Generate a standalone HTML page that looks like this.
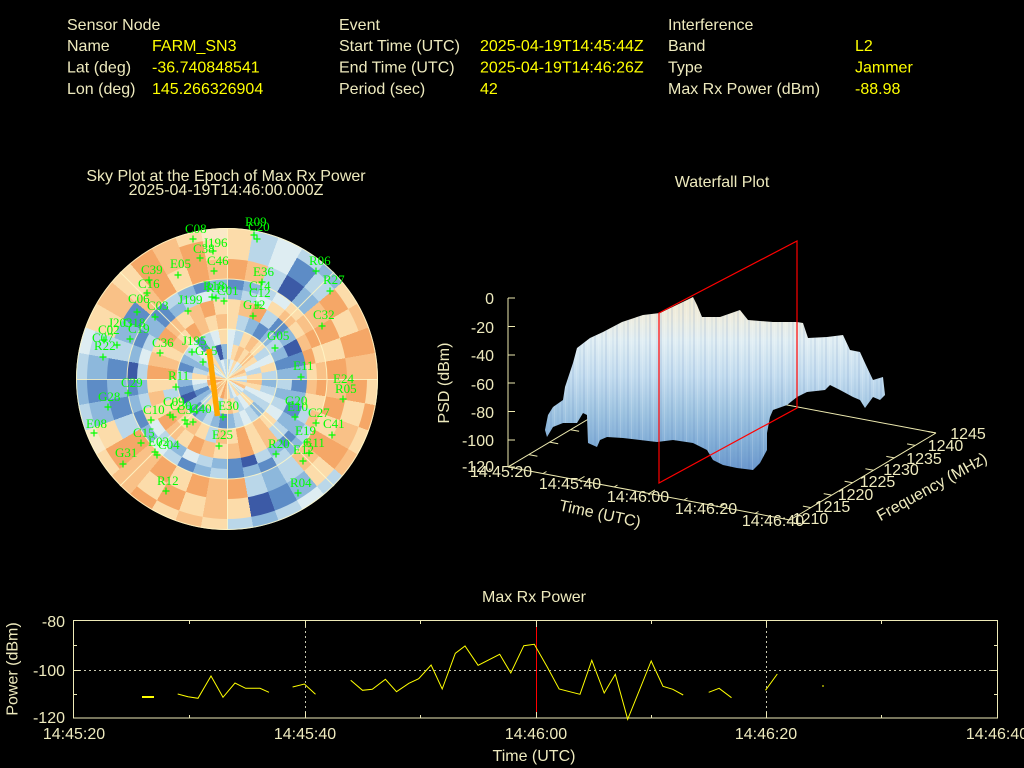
<!DOCTYPE html>
<html><head><meta charset="utf-8"><style>
html,body{margin:0;padding:0;background:#000}
body{width:1024px;height:768px;position:relative;overflow:hidden}
.r{position:absolute;border-radius:50%}
#rA{left:76px;top:228px;width:302px;height:302px;background:conic-gradient(#fcdcaa 0deg 10deg,#bad7e9 10deg 20deg,#deedf2 20deg 30deg,#bad7e9 30deg 40deg,#8db8dc 40deg 50deg,#fcdcaa 50deg 60deg,#f9c187 60deg 70deg,#f5a767 70deg 80deg,#f9c187 80deg 90deg,#fcdcaa 90deg 100deg,#f5a767 100deg 110deg,#fcdcaa 110deg 120deg,#f9c187 120deg 130deg,#bad7e9 130deg 140deg,#deedf2 140deg 150deg,#bad7e9 150deg 160deg,#8db8dc 160deg 170deg,#bad7e9 170deg 180deg,#fcdcaa 180deg 190deg,#f9c187 190deg 200deg,#fcdcaa 200deg 210deg,#f5a767 210deg 220deg,#f9c187 220deg 230deg,#fcdcaa 230deg 240deg,#fae9c8 240deg 250deg,#bad7e9 250deg 260deg,#8db8dc 260deg 270deg,#bad7e9 270deg 280deg,#deedf2 280deg 290deg,#fcdcaa 290deg 300deg,#f9c187 300deg 310deg,#fcdcaa 310deg 320deg,#f5a767 320deg 330deg,#f9c187 330deg 340deg,#fcdcaa 340deg 350deg,#fae9c8 350deg 360deg)}
#rB{left:87px;top:239px;width:280px;height:280px;background:conic-gradient(#fcdcaa 0deg 10deg,#bad7e9 10deg 20deg,#deedf2 20deg 30deg,#5d8cc6 30deg 40deg,#bad7e9 40deg 50deg,#f5a767 50deg 60deg,#fcdcaa 60deg 70deg,#f5a767 70deg 80deg,#f9c187 80deg 90deg,#f5a767 90deg 100deg,#fcdcaa 100deg 110deg,#f9c187 110deg 120deg,#f5a767 120deg 130deg,#fcdcaa 130deg 140deg,#8db8dc 140deg 150deg,#5d8cc6 150deg 160deg,#3c5aa6 160deg 170deg,#fcdcaa 170deg 180deg,#f9c187 180deg 190deg,#fcdcaa 190deg 200deg,#f5a767 200deg 210deg,#fcdcaa 210deg 220deg,#f9c187 220deg 230deg,#f5a767 230deg 240deg,#fcdcaa 240deg 250deg,#8db8dc 250deg 260deg,#5d8cc6 260deg 270deg,#8db8dc 270deg 280deg,#bad7e9 280deg 290deg,#fcdcaa 290deg 300deg,#f9c187 300deg 310deg,#fcdcaa 310deg 320deg,#f5a767 320deg 330deg,#f9c187 330deg 340deg,#f5a767 340deg 350deg,#fcdcaa 350deg 360deg)}
#rC{left:107px;top:259px;width:240px;height:240px;background:conic-gradient(#f5a767 0deg 10deg,#f9c187 10deg 20deg,#bad7e9 20deg 30deg,#3c5aa6 30deg 40deg,#8db8dc 40deg 50deg,#f9c187 50deg 60deg,#f5a767 60deg 70deg,#fcdcaa 70deg 80deg,#f5a767 80deg 90deg,#f9c187 90deg 100deg,#f5a767 100deg 110deg,#fcdcaa 110deg 120deg,#f5a767 120deg 130deg,#f9c187 130deg 140deg,#bad7e9 140deg 150deg,#8db8dc 150deg 160deg,#bad7e9 160deg 170deg,#f5a767 170deg 180deg,#f9c187 180deg 190deg,#f5a767 190deg 200deg,#fcdcaa 200deg 210deg,#f5a767 210deg 220deg,#f9c187 220deg 230deg,#f5a767 230deg 240deg,#bad7e9 240deg 250deg,#5d8cc6 250deg 260deg,#8db8dc 260deg 270deg,#5d8cc6 270deg 280deg,#bad7e9 280deg 290deg,#8db8dc 290deg 300deg,#5d8cc6 300deg 310deg,#f9c187 310deg 320deg,#f5a767 320deg 330deg,#fcdcaa 330deg 340deg,#f5a767 340deg 350deg,#f9c187 350deg 360deg)}
#rD{left:127px;top:279px;width:200px;height:200px;background:conic-gradient(#5d8cc6 0deg 10deg,#8db8dc 10deg 20deg,#bad7e9 20deg 30deg,#deedf2 30deg 40deg,#fcdcaa 40deg 50deg,#f9c187 50deg 60deg,#f5a767 60deg 70deg,#fcdcaa 70deg 80deg,#f9c187 80deg 90deg,#f5a767 90deg 100deg,#fcdcaa 100deg 110deg,#f9c187 110deg 120deg,#bad7e9 120deg 130deg,#8db8dc 130deg 140deg,#bad7e9 140deg 150deg,#5d8cc6 150deg 160deg,#8db8dc 160deg 170deg,#5d8cc6 170deg 180deg,#bad7e9 180deg 190deg,#8db8dc 190deg 200deg,#5d8cc6 200deg 210deg,#bad7e9 210deg 220deg,#deedf2 220deg 230deg,#8db8dc 230deg 240deg,#5d8cc6 240deg 250deg,#8db8dc 250deg 260deg,#5d8cc6 260deg 270deg,#3c5aa6 270deg 280deg,#8db8dc 280deg 290deg,#5d8cc6 290deg 300deg,#8db8dc 300deg 310deg,#5d8cc6 310deg 320deg,#bad7e9 320deg 330deg,#8db8dc 330deg 340deg,#5d8cc6 340deg 350deg,#8db8dc 350deg 360deg)}
#rE{left:137px;top:289px;width:180px;height:180px;background:conic-gradient(#8db8dc 0deg 10deg,#bad7e9 10deg 20deg,#deedf2 20deg 30deg,#fcdcaa 30deg 40deg,#f9c187 40deg 50deg,#fcdcaa 50deg 60deg,#f9c187 60deg 70deg,#f5a767 70deg 80deg,#fcdcaa 80deg 90deg,#f9c187 90deg 100deg,#fcdcaa 100deg 110deg,#bad7e9 110deg 120deg,#8db8dc 120deg 130deg,#5d8cc6 130deg 140deg,#8db8dc 140deg 150deg,#bad7e9 150deg 160deg,#3c5aa6 160deg 170deg,#5d8cc6 170deg 180deg,#8db8dc 180deg 190deg,#bad7e9 190deg 200deg,#deedf2 200deg 210deg,#8db8dc 210deg 220deg,#bad7e9 220deg 230deg,#deedf2 230deg 240deg,#fcdcaa 240deg 250deg,#bad7e9 250deg 260deg,#8db8dc 260deg 270deg,#bad7e9 270deg 280deg,#deedf2 280deg 290deg,#bad7e9 290deg 300deg,#8db8dc 300deg 310deg,#5d8cc6 310deg 320deg,#8db8dc 320deg 330deg,#bad7e9 330deg 340deg,#deedf2 340deg 350deg,#bad7e9 350deg 360deg)}
#rF{left:147px;top:299px;width:160px;height:160px;background:conic-gradient(#fcdcaa 0deg 10deg,#f9c187 10deg 20deg,#f5a767 20deg 30deg,#bad7e9 30deg 40deg,#5d8cc6 40deg 50deg,#8db8dc 50deg 60deg,#3c5aa6 60deg 70deg,#5d8cc6 70deg 80deg,#8db8dc 80deg 90deg,#5d8cc6 90deg 100deg,#8db8dc 100deg 110deg,#5d8cc6 110deg 120deg,#8db8dc 120deg 130deg,#bad7e9 130deg 140deg,#f9c187 140deg 150deg,#fcdcaa 150deg 160deg,#f5a767 160deg 170deg,#f9c187 170deg 180deg,#fcdcaa 180deg 190deg,#f9c187 190deg 200deg,#f5a767 200deg 210deg,#fcdcaa 210deg 220deg,#f9c187 220deg 230deg,#f5a767 230deg 240deg,#fcdcaa 240deg 250deg,#f9c187 250deg 260deg,#fcdcaa 260deg 270deg,#f5a767 270deg 280deg,#f9c187 280deg 290deg,#fcdcaa 290deg 300deg,#f5a767 300deg 310deg,#f9c187 310deg 320deg,#fcdcaa 320deg 330deg,#f9c187 330deg 340deg,#f5a767 340deg 350deg,#fcdcaa 350deg 360deg)}
#rG{left:162px;top:314px;width:130px;height:130px;background:conic-gradient(#fcdcaa 0deg 10deg,#bad7e9 10deg 20deg,#8db8dc 20deg 30deg,#5d8cc6 30deg 40deg,#8db8dc 40deg 50deg,#bad7e9 50deg 60deg,#8db8dc 60deg 70deg,#5d8cc6 70deg 80deg,#8db8dc 80deg 90deg,#bad7e9 90deg 100deg,#8db8dc 100deg 110deg,#bad7e9 110deg 120deg,#deedf2 120deg 130deg,#fcdcaa 130deg 140deg,#f9c187 140deg 150deg,#fcdcaa 150deg 160deg,#f5a767 160deg 170deg,#fcdcaa 170deg 180deg,#f9c187 180deg 190deg,#bad7e9 190deg 200deg,#fcdcaa 200deg 210deg,#f9c187 210deg 220deg,#fcdcaa 220deg 230deg,#f9c187 230deg 240deg,#fcdcaa 240deg 250deg,#bad7e9 250deg 260deg,#fcdcaa 260deg 270deg,#f5a767 270deg 280deg,#f9c187 280deg 290deg,#fcdcaa 290deg 300deg,#f9c187 300deg 310deg,#fcdcaa 310deg 320deg,#f5a767 320deg 330deg,#f9c187 330deg 340deg,#fcdcaa 340deg 350deg,#f9c187 350deg 360deg)}
#rH{left:177px;top:329px;width:100px;height:100px;background:conic-gradient(#deedf2 0deg 10deg,#bad7e9 10deg 20deg,#fcdcaa 20deg 30deg,#f9c187 30deg 40deg,#fcdcaa 40deg 50deg,#bad7e9 50deg 60deg,#deedf2 60deg 70deg,#fcdcaa 70deg 80deg,#bad7e9 80deg 90deg,#8db8dc 90deg 100deg,#bad7e9 100deg 110deg,#deedf2 110deg 120deg,#bad7e9 120deg 130deg,#8db8dc 130deg 140deg,#bad7e9 140deg 150deg,#deedf2 150deg 160deg,#bad7e9 160deg 170deg,#8db8dc 170deg 180deg,#5d8cc6 180deg 190deg,#8db8dc 190deg 200deg,#bad7e9 200deg 210deg,#8db8dc 210deg 220deg,#5d8cc6 220deg 230deg,#8db8dc 230deg 240deg,#3c5aa6 240deg 250deg,#5d8cc6 250deg 260deg,#8db8dc 260deg 270deg,#bad7e9 270deg 280deg,#5d8cc6 280deg 290deg,#8db8dc 290deg 300deg,#bad7e9 300deg 310deg,#deedf2 310deg 320deg,#5d8cc6 320deg 330deg,#bad7e9 330deg 340deg,#deedf2 340deg 350deg,#fcdcaa 350deg 360deg)}
#rI{left:192px;top:344px;width:70px;height:70px;background:conic-gradient(#deedf2 0deg 10deg,#fcdcaa 10deg 20deg,#f9c187 20deg 30deg,#fcdcaa 30deg 40deg,#f9c187 40deg 50deg,#fcdcaa 50deg 60deg,#deedf2 60deg 70deg,#bad7e9 70deg 80deg,#fcdcaa 80deg 90deg,#f9c187 90deg 100deg,#fcdcaa 100deg 110deg,#deedf2 110deg 120deg,#bad7e9 120deg 130deg,#fcdcaa 130deg 140deg,#deedf2 140deg 150deg,#bad7e9 150deg 160deg,#fcdcaa 160deg 170deg,#f9c187 170deg 180deg,#fcdcaa 180deg 190deg,#bad7e9 190deg 200deg,#deedf2 200deg 210deg,#fcdcaa 210deg 220deg,#bad7e9 220deg 230deg,#8db8dc 230deg 240deg,#5d8cc6 240deg 250deg,#bad7e9 250deg 260deg,#deedf2 260deg 270deg,#fcdcaa 270deg 280deg,#bad7e9 280deg 290deg,#8db8dc 290deg 300deg,#bad7e9 300deg 310deg,#deedf2 310deg 320deg,#fcdcaa 320deg 330deg,#bad7e9 330deg 340deg,#3c5aa6 340deg 350deg,#8db8dc 350deg 360deg)}
#rJ{left:207px;top:359px;width:40px;height:40px;background:conic-gradient(#bad7e9 0deg 10deg,#deedf2 10deg 20deg,#fcdcaa 20deg 30deg,#deedf2 30deg 40deg,#bad7e9 40deg 50deg,#fcdcaa 50deg 60deg,#f9c187 60deg 70deg,#fcdcaa 70deg 80deg,#deedf2 80deg 90deg,#bad7e9 90deg 100deg,#fcdcaa 100deg 110deg,#f9c187 110deg 120deg,#deedf2 120deg 130deg,#bad7e9 130deg 140deg,#fcdcaa 140deg 150deg,#deedf2 150deg 160deg,#bad7e9 160deg 170deg,#fcdcaa 170deg 180deg,#f9c187 180deg 190deg,#f5a767 190deg 200deg,#fcdcaa 200deg 210deg,#f9c187 210deg 220deg,#f5a767 220deg 230deg,#f9c187 230deg 240deg,#fcdcaa 240deg 250deg,#f5a767 250deg 260deg,#f5a767 260deg 270deg,#f9c187 270deg 280deg,#fcdcaa 280deg 290deg,#bad7e9 290deg 300deg,#deedf2 300deg 310deg,#bad7e9 310deg 320deg,#fcdcaa 320deg 330deg,#bad7e9 330deg 340deg,#deedf2 340deg 350deg,#bad7e9 350deg 360deg)}
svg{position:absolute;left:0;top:0}
.t{font-family:"Liberation Sans",sans-serif;font-size:16px;fill:#eeeabe}
.v{font-family:"Liberation Sans",sans-serif;font-size:16px;fill:#ffff00}
.s{font-family:"Liberation Serif",serif;font-size:13px;fill:#00ff00}
</style></head><body>
<div class="r" id="rA"></div>
<div class="r" id="rB"></div>
<div class="r" id="rC"></div>
<div class="r" id="rD"></div>
<div class="r" id="rE"></div>
<div class="r" id="rF"></div>
<div class="r" id="rG"></div>
<div class="r" id="rH"></div>
<div class="r" id="rI"></div>
<div class="r" id="rJ"></div>
<svg width="1024" height="768" viewBox="0 0 1024 768">
<defs>
<linearGradient id="sg" gradientUnits="userSpaceOnUse" x1="0" y1="297" x2="0" y2="472">
<stop offset="0" stop-color="#f2ead2"/>
<stop offset="0.12" stop-color="#eeede0"/>
<stop offset="0.25" stop-color="#e2eff4"/>
<stop offset="0.45" stop-color="#c6def0"/>
<stop offset="0.65" stop-color="#a2c6e2"/>
<stop offset="0.85" stop-color="#80acd6"/>
<stop offset="1" stop-color="#6a96cc"/>
</linearGradient>
<pattern id="st" width="11" height="300" patternUnits="userSpaceOnUse">
<rect x="0" y="0" width="2" height="300" fill="#3f6fae" opacity="0.12"/>
<rect x="4" y="0" width="1" height="300" fill="#ffffff" opacity="0.15"/>
<rect x="7" y="0" width="2" height="300" fill="#5a88c0" opacity="0.08"/>
</pattern>
</defs>

<!-- Header -->
<text class="t" x="67" y="30">Sensor Node</text>
<text class="t" x="67" y="51">Name</text>
<text class="t" x="67" y="72.5">Lat (deg)</text>
<text class="t" x="67" y="94">Lon (deg)</text>
<text class="v" x="152" y="51">FARM_SN3</text>
<text class="v" x="152" y="72.5">-36.740848541</text>
<text class="v" x="152" y="94">145.266326904</text>
<text class="t" x="339" y="30">Event</text>
<text class="t" x="339" y="51">Start Time (UTC)</text>
<text class="t" x="339" y="72.5">End Time (UTC)</text>
<text class="t" x="339" y="94">Period (sec)</text>
<text class="v" x="480" y="51">2025-04-19T14:45:44Z</text>
<text class="v" x="480" y="72.5">2025-04-19T14:46:26Z</text>
<text class="v" x="480" y="94">42</text>
<text class="t" x="668" y="30">Interference</text>
<text class="t" x="668" y="51">Band</text>
<text class="t" x="668" y="72.5">Type</text>
<text class="t" x="668" y="94">Max Rx Power (dBm)</text>
<text class="v" x="855" y="51">L2</text>
<text class="v" x="855" y="72.5">Jammer</text>
<text class="v" x="855" y="94">-88.98</text>

<!-- Sky plot -->
<text class="t" x="226" y="181" text-anchor="middle">Sky Plot at the Epoch of Max Rx Power</text>
<text class="t" x="226" y="195" text-anchor="middle">2025-04-19T14:46:00.000Z</text>
<g fill="none" stroke="#fff8c8" stroke-width="1" opacity="0.85">
<circle cx="227" cy="379" r="50"/>
<circle cx="227" cy="379" r="100"/>
<circle cx="227" cy="379" r="150.5"/>
<line x1="76" y1="379.5" x2="378" y2="379.5"/>
<line x1="227.5" y1="228" x2="227.5" y2="530"/>
<line x1="120" y1="272" x2="334" y2="486"/>
<line x1="120" y1="486" x2="334" y2="272"/>
</g>
<g class="s">
<text class="s" x="185" y="233">C08</text>
<text class="s" x="245" y="226">R09</text>
<text class="s" x="248" y="231">C20</text>
<text class="s" x="203" y="247">J196</text>
<text class="s" x="193" y="253">C38</text>
<text class="s" x="170" y="268">E05</text>
<text class="s" x="207" y="265">C46</text>
<text class="s" x="141" y="274">C39</text>
<text class="s" x="138" y="288">C16</text>
<text class="s" x="253" y="276">E36</text>
<text class="s" x="309" y="265">R06</text>
<text class="s" x="323" y="284">R27</text>
<text class="s" x="203" y="290">R18</text>
<text class="s" x="206" y="292">R10</text>
<text class="s" x="217" y="295">C01</text>
<text class="s" x="249" y="290">C14</text>
<text class="s" x="249" y="297">C12</text>
<text class="s" x="243" y="309">G12</text>
<text class="s" x="128" y="303">C06</text>
<text class="s" x="147" y="310">C03</text>
<text class="s" x="178" y="304">J199</text>
<text class="s" x="313" y="319">C32</text>
<text class="s" x="108" y="327">J203</text>
<text class="s" x="123" y="327">G18</text>
<text class="s" x="128" y="333">C19</text>
<text class="s" x="98" y="334">C02</text>
<text class="s" x="92" y="342">C07</text>
<text class="s" x="94" y="350">R22</text>
<text class="s" x="267" y="340">G05</text>
<text class="s" x="182" y="345">J195</text>
<text class="s" x="195" y="355">G25</text>
<text class="s" x="152" y="347">C36</text>
<text class="s" x="293" y="370">E11</text>
<text class="s" x="333" y="383">E24</text>
<text class="s" x="335" y="393">R05</text>
<text class="s" x="168" y="380">R11</text>
<text class="s" x="121" y="387">C29</text>
<text class="s" x="98" y="401">G28</text>
<text class="s" x="143" y="414">C10</text>
<text class="s" x="163" y="406">C09</text>
<text class="s" x="170" y="410">C30</text>
<text class="s" x="177" y="414">C34</text>
<text class="s" x="190" y="413">C40</text>
<text class="s" x="218" y="410">E30</text>
<text class="s" x="285" y="405">G20</text>
<text class="s" x="287" y="411">E10</text>
<text class="s" x="308" y="417">C27</text>
<text class="s" x="323" y="428">C41</text>
<text class="s" x="86" y="428">E08</text>
<text class="s" x="295" y="435">E19</text>
<text class="s" x="303" y="447">G11</text>
<text class="s" x="133" y="437">C15</text>
<text class="s" x="212" y="439">E25</text>
<text class="s" x="268" y="448">R20</text>
<text class="s" x="293" y="454">E12</text>
<text class="s" x="148" y="446">E02</text>
<text class="s" x="158" y="449">C04</text>
<text class="s" x="115" y="457">G31</text>
<text class="s" x="157" y="485">R12</text>
<text class="s" x="290" y="487">R04</text>
</g>
<path fill="none" stroke="#00ff00" stroke-width="1.2" d="M189.5 239h7M193 235.5v7M250.5 235h7M254 231.5v7M253.5 239h7M257 235.5v7M209.5 251h7M213 247.5v7M196.5 258h7M200 254.5v7M174.5 275h7M178 271.5v7M210.5 271h7M214 267.5v7M145.5 280h7M149 276.5v7M143.5 293h7M147 289.5v7M258.5 282h7M262 278.5v7M312.5 271h7M316 267.5v7M326.5 291h7M330 287.5v7M208.5 297h7M212 293.5v7M212.5 298h7M216 294.5v7M220.5 301h7M224 297.5v7M254.5 305h7M258 301.5v7M249.5 316h7M253 312.5v7M133.5 312h7M137 308.5v7M151.5 317h7M155 313.5v7M184.5 311h7M188 307.5v7M318.5 326h7M322 322.5v7M126.5 339h7M130 335.5v7M100.5 340h7M104 336.5v7M113.5 345h7M117 341.5v7M99.5 357h7M103 353.5v7M271.5 348h7M275 344.5v7M188.5 352h7M192 348.5v7M199.5 362h7M203 358.5v7M156.5 353h7M160 349.5v7M297.5 377h7M301 373.5v7M339.5 399h7M343 395.5v7M172.5 387h7M176 383.5v7M124.5 393h7M128 389.5v7M104.5 407h7M108 403.5v7M147.5 420h7M151 416.5v7M166.5 415h7M170 411.5v7M169.5 417h7M173 413.5v7M181.5 420h7M185 416.5v7M183.5 424h7M187 420.5v7M189.5 422h7M193 418.5v7M219.5 417h7M223 413.5v7M291.5 417h7M295 413.5v7M312.5 423h7M316 419.5v7M328.5 435h7M332 431.5v7M90.5 433h7M94 429.5v7M303.5 442h7M307 438.5v7M305.5 453h7M309 449.5v7M137.5 443h7M141 439.5v7M215.5 446h7M219 442.5v7M272.5 454h7M276 450.5v7M299.5 461h7M303 457.5v7M151.5 452h7M155 448.5v7M153.5 455h7M157 451.5v7M119.5 464h7M123 460.5v7M162.5 491h7M166 487.5v7M294.5 493h7M298 489.5v7"/>
<line x1="209" y1="349" x2="217.5" y2="416" stroke="#ffa500" stroke-width="5.5"/>

<!-- Waterfall -->
<text class="t" x="722" y="187" text-anchor="middle">Waterfall Plot</text>
<g stroke="#eeeab0" stroke-width="1" fill="none">
<line x1="508" y1="467" x2="790" y2="520"/>
<line x1="790" y1="520" x2="936" y2="433"/>
<line x1="654" y1="380" x2="936" y2="433"/>
<line x1="508" y1="467" x2="654" y2="380"/>
<line x1="508" y1="298" x2="508" y2="467"/>
<path d="M508 298h7M508 326.5h7M508 355h7M508 383h7M508 411.5h7M508 440h7M508 467h7"/>
<path d="M508 467l6 -3.6M578.5 480l6 -3.6M649 493.5l6 -3.6M719.5 507l6 -3.6M543 473.5l3.5 -2M614 487l3.5 -2M684 500l3.5 -2M755 513.5l3.5 -2"/>
<path d="M810.9 507.6l-8 -1.5M831.7 495.1l-8 -1.5M852.6 482.7l-8 -1.5M873.4 470.3l-8 -1.5M894.3 457.9l-8 -1.5M915.1 445.4l-8 -1.5M936 433l-8 -1.5"/>
<path d="M528.9 454.6l8.5 1.6M549.7 442.1l8.5 1.6M570.6 429.7l8.5 1.6M591.4 417.3l8.5 1.6"/>
</g>
<polygon fill="url(#sg)" points="545,430 548,415 553,407 563,400 565,387 573,363 577,348 590,338 603,332 622,322 643,315 660,313 687,300 693,297 697,305 702,317 720,317 740,310 748,320 773,322 797,322 803,323 808,338 827,337 843,335 850,350 860,352 865,363 873,380 883,377 885,395 880,400 873,397 865,408 860,400 853,397 840,390 830,385 825,390 807,392 797,397 787,405 773,410 770,417 767,433 767,450 760,463 753,470 737,468 723,465 713,460 707,450 693,443 673,440 657,442 640,440 623,438 607,437 600,440 597,447 588,443 587,415 583,413 577,423 563,423 553,427 547,437"/>
<polygon fill="url(#st)" points="545,430 548,415 553,407 563,400 565,387 573,363 577,348 590,338 603,332 622,322 643,315 660,313 687,300 693,297 697,305 702,317 720,317 740,310 748,320 773,322 797,322 803,323 808,338 827,337 843,335 850,350 860,352 865,363 873,380 883,377 885,395 880,400 873,397 865,408 860,400 853,397 840,390 830,385 825,390 807,392 797,397 787,405 773,410 770,417 767,433 767,450 760,463 753,470 737,468 723,465 713,460 707,450 693,443 673,440 657,442 640,440 623,438 607,437 600,440 597,447 588,443 587,415 583,413 577,423 563,423 553,427 547,437"/>
<g fill="none" stroke="#ff0000" stroke-width="1.2">
<polygon points="659,313 797,241 797,408 659,483"/>
</g>
<g class="t">
<text class="t" x="494" y="304" text-anchor="end">0</text>
<text class="t" x="494" y="333" text-anchor="end">-20</text>
<text class="t" x="494" y="361" text-anchor="end">-40</text>
<text class="t" x="494" y="390" text-anchor="end">-60</text>
<text class="t" x="494" y="418" text-anchor="end">-80</text>
<text class="t" x="494" y="446" text-anchor="end">-100</text>
<text class="t" x="494" y="472" text-anchor="end">-120</text>
<text class="t" x="501" y="477" text-anchor="middle">14:45:20</text>
<text class="t" x="570" y="489" text-anchor="middle">14:45:40</text>
<text class="t" x="638" y="502" text-anchor="middle">14:46:00</text>
<text class="t" x="706" y="514" text-anchor="middle">14:46:20</text>
<text class="t" x="773" y="526" text-anchor="middle">14:46:40</text>
<text class="t" x="810.5" y="524" text-anchor="middle">1210</text>
<text class="t" x="832.5" y="512" text-anchor="middle">1215</text>
<text class="t" x="855.5" y="500" text-anchor="middle">1220</text>
<text class="t" x="877.5" y="487" text-anchor="middle">1225</text>
<text class="t" x="901" y="475" text-anchor="middle">1230</text>
<text class="t" x="924" y="464" text-anchor="middle">1235</text>
<text class="t" x="945.5" y="451" text-anchor="middle">1240</text>
<text class="t" x="968" y="439" text-anchor="middle">1245</text>
<text class="t" x="600" y="519" text-anchor="middle" transform="rotate(12 600 514)">Time (UTC)</text>
<text class="t" x="932" y="492" text-anchor="middle" transform="rotate(-29 932 487)">Frequency (MHz)</text>
<text class="t" x="0" y="0" text-anchor="middle" transform="translate(449 383) rotate(-90)">PSD (dBm)</text>
</g>

<!-- Max Rx Power chart -->
<text class="t" x="534" y="602" text-anchor="middle">Max Rx Power</text>
<g stroke="#c8c8b0" stroke-width="1" stroke-dasharray="2,3" fill="none">
<line x1="74" y1="670.5" x2="997" y2="670.5"/>
<line x1="305.5" y1="621" x2="305.5" y2="718"/>
<line x1="766.5" y1="621" x2="766.5" y2="718"/>
</g>
<line x1="536.5" y1="621" x2="536.5" y2="718" stroke="#ff0000" stroke-width="1"/>
<g stroke="#eeeab8" stroke-width="1" fill="none">
<rect x="73.5" y="620.5" width="924" height="97.5"/>
<path d="M305.5 718v-6M536.5 718v-6M766.5 718v-6M305.5 621v6M536.5 621v6M766.5 621v6M189.5 718v-3M420.5 718v-3M651.5 718v-3M881.5 718v-3M189.5 621v3M420.5 621v3M651.5 621v3M881.5 621v3M74 670.5h6M997 670.5h-6M74 645.5h3M74 694.5h3M997 645.5h-3M997 694.5h-3"/>
</g>
<g stroke="#ffff00" stroke-width="1" fill="none">
<polyline points="142,697 154,697" stroke-width="2"/>
<polyline points="177.7,694 188,696.7 198,698.3 211,676 223,697.3 235,683 245.6,688.3 260,688.3 269,692.3"/>
<polyline points="292.6,687 304.4,684 315.5,694.3"/>
<polyline points="350.7,680.3 362.5,690.3 372.3,689.3 385.4,679.3 396.5,691.7 408.9,683.3 418.7,678.7 431.1,665 442.2,689 455.3,653.3 465,646 478.1,665.3 499.7,654.3 510.8,673 523.8,645.7 534.3,644.3 547.4,667.3 559.1,689 580,694.3 591.8,660.3 604.2,693 615.3,674.3 627.7,719.3 651.2,661 663,686.3 672.8,689.3 683.2,695"/>
<polyline points="708.7,692.3 719.1,688.3 731.5,697.7"/>
<polyline points="765.5,690.3 777.3,674"/>
<polyline points="822,686 824,686"/>
</g>
<g class="t">
<text class="t" x="65" y="627" text-anchor="end">-80</text>
<text class="t" x="65" y="676" text-anchor="end">-100</text>
<text class="t" x="65" y="723" text-anchor="end">-120</text>
<text class="t" x="74" y="739" text-anchor="middle">14:45:20</text>
<text class="t" x="305" y="739" text-anchor="middle">14:45:40</text>
<text class="t" x="536" y="739" text-anchor="middle">14:46:00</text>
<text class="t" x="766" y="739" text-anchor="middle">14:46:20</text>
<text class="t" x="997" y="739" text-anchor="middle">14:46:40</text>
<text class="t" x="534" y="761" text-anchor="middle">Time (UTC)</text>
<text class="t" x="0" y="0" text-anchor="middle" transform="translate(17.5 669) rotate(-90)">Power (dBm)</text>
</g>
</svg>
</body></html>
